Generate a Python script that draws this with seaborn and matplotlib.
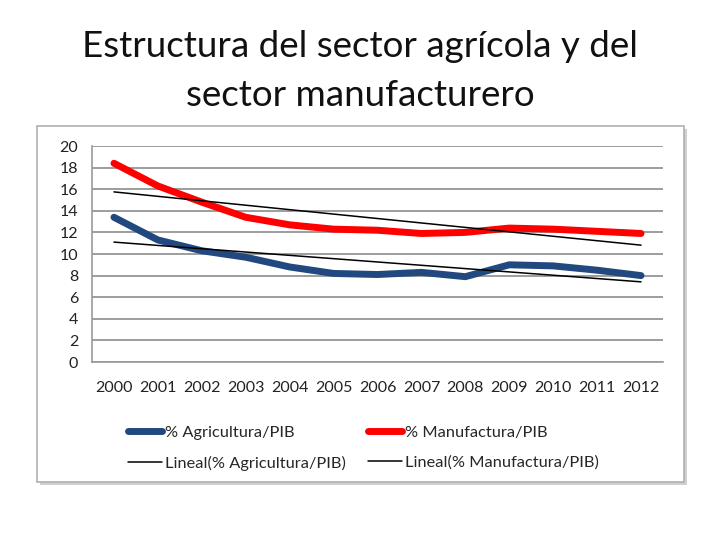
import matplotlib
matplotlib.use('Agg')
import matplotlib.pyplot as plt
import seaborn as sns
import numpy as np
from matplotlib.patches import Rectangle

sns.set_style("white")
plt.rcParams['font.family'] = ['Lato', 'DejaVu Sans']

# Data
years = [2000, 2001, 2002, 2003, 2004, 2005, 2006, 2007, 2008, 2009, 2010, 2011, 2012]
agricultura = [13.4, 11.3, 10.3, 9.7, 8.8, 8.2, 8.1, 8.3, 7.9, 9.0, 8.9, 8.5, 8.0]
manufactura = [18.4, 16.3, 14.8, 13.4, 12.7, 12.3, 12.2, 11.9, 12.0, 12.4, 12.3, 12.1, 11.9]

title_lines = ["Estructura del sector agrícola y del", "sector manufacturero"]
y_ticks = list(range(0, 21, 2))

fig = plt.figure(figsize=(7.2, 5.4), dpi=100)

# chart box with a soft shadow, like the pasted Excel chart
fig.patches.append(Rectangle((40 / 720, 1 - 485 / 540), 647 / 720, 356 / 540,
                             transform=fig.transFigure, facecolor='#d0d0d0',
                             edgecolor='none', zorder=0))
fig.patches.append(Rectangle((37 / 720, 1 - 482 / 540), 647 / 720, 356 / 540,
                             transform=fig.transFigure, facecolor='white',
                             edgecolor='#b0b0b0', linewidth=1.2, zorder=0))

# title, one text per line (baselines at 57 and 106 px)
for line, base in zip(title_lines, [57, 106]):
    fig.text(0.5, 1 - base / 540, line, ha='center', va='baseline',
             fontsize=26.5, color='#111111')

ax = fig.add_axes([92 / 720, 1 - 362 / 540, 571 / 720, 216 / 540])
ax.set_facecolor('none')
ax.set_zorder(2)

sns.lineplot(x=years, y=agricultura, ax=ax, color='#22497f', linewidth=5,
             label='% Agricultura/PIB', solid_capstyle='round',
             solid_joinstyle='round', zorder=3)
sns.lineplot(x=years, y=manufactura, ax=ax, color='#ff0000', linewidth=5,
             label='% Manufactura/PIB', solid_capstyle='round',
             solid_joinstyle='round', zorder=3)

# linear trend lines
x = np.array(years, dtype=float)
pa = np.polyfit(x, agricultura, 1)
pm = np.polyfit(x, manufactura, 1)
ax.plot(x, np.polyval(pa, x), color='black', linewidth=1.1, zorder=4,
        label='Lineal(% Agricultura/PIB)')
ax.plot(x, np.polyval(pm, x), color='black', linewidth=1.1, zorder=4,
        label='Lineal(% Manufactura/PIB)')

ax.set_xlim(1999.5, 2012.5)
ax.set_ylim(0, 20)
ax.set_yticks(y_ticks)
ax.set_xticks(years)
ax.set_xticklabels([str(y) for y in years])
ax.set_xticks(np.arange(1999.5, 2013, 1.0), minor=True)
ax.tick_params(axis='x', which='major', length=0, pad=14, labelsize=11.5,
               labelcolor='#222222')
ax.tick_params(axis='x', which='minor', length=4, color='#999999', direction='out')
ax.tick_params(axis='y', length=5, color='#999999', direction='out',
               labelsize=11.5, labelcolor='#222222', pad=5)
ax.yaxis.grid(True, color='#8c8c8c', linewidth=1.2)
ax.set_axisbelow(True)
for s in ['top', 'right']:
    ax.spines[s].set_visible(False)
for s in ['left', 'bottom']:
    ax.spines[s].set_color('#999999')
    ax.spines[s].set_linewidth(1.2)

handles, labels = ax.get_legend_handles_labels()
order = [0, 2, 1, 3]
ax.legend([handles[i] for i in order], [labels[i] for i in order], ncol=2,
          loc='upper left', bbox_to_anchor=(21 / 571, -0.226), frameon=False,
          fontsize=11.8, handlelength=2.1, handletextpad=0.2, columnspacing=1.3,
          labelspacing=0.95)

plt.savefig('out.png', dpi=100)
plt.close()
